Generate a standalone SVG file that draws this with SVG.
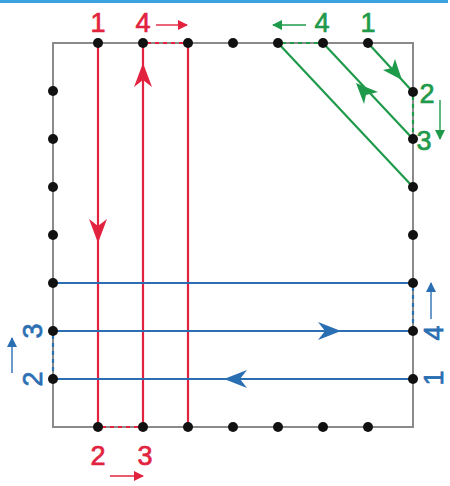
<svg xmlns="http://www.w3.org/2000/svg" width="450" height="486" viewBox="0 0 450 486">
<defs>
<style>
.lbl{font-family:"Liberation Sans",Arial,sans-serif;font-size:27px;text-anchor:middle;stroke-width:0.7}
.r{fill:#e2233f;stroke:#e2233f}.g{fill:#1f9a4b;stroke:#1f9a4b}.b{fill:#2b6fb3;stroke:#2b6fb3}
.ln{stroke-width:2.2;fill:none}
.rs{stroke:#e2233f}.gs{stroke:#1f9a4b}.bs{stroke:#2b6fb3}
.dash{stroke-width:2.2;stroke-dasharray:4 4;fill:none}
.thin{stroke-width:1.4;fill:none}
.dot{fill:#111}
</style>
<marker id="ar" viewBox="0 0 10 10" refX="9" refY="5" markerWidth="11" markerHeight="10" orient="auto" markerUnits="userSpaceOnUse"><path d="M0,0 L10,5 L0,10 z" fill="#e2233f"/></marker>
<marker id="ag" viewBox="0 0 10 10" refX="9" refY="5" markerWidth="11" markerHeight="10" orient="auto" markerUnits="userSpaceOnUse"><path d="M0,0 L10,5 L0,10 z" fill="#1f9a4b"/></marker>
<marker id="ab" viewBox="0 0 10 10" refX="9" refY="5" markerWidth="11" markerHeight="10" orient="auto" markerUnits="userSpaceOnUse"><path d="M0,0 L10,5 L0,10 z" fill="#2b6fb3"/></marker>
</defs>
<rect x="0" y="0" width="448" height="3" fill="#3aa3e0"/>
<rect id="frame" x="53" y="43" width="360" height="384" fill="none" stroke="#8a8a8a" stroke-width="2"/>
<g id="connectors">
<g id="red">
<line class="ln rs" x1="98" y1="43" x2="98" y2="427"/>
<line class="ln rs" x1="143" y1="43" x2="143" y2="427"/>
<line class="ln rs" x1="188" y1="43" x2="188" y2="427"/>
<path d="M89,219 L98,243 L107,219 L98,226 z" fill="#e2233f"/>
<path d="M134,87 L143,63 L152,87 L143,80 z" fill="#e2233f"/>
<line class="dash rs" x1="147" y1="43" x2="186" y2="43"/>
<line class="dash rs" x1="102" y1="427" x2="141" y2="427"/>
</g>
<g id="green">
<line class="ln gs" x1="368" y1="43" x2="413" y2="92"/>
<line class="ln gs" x1="323" y1="43" x2="413" y2="139"/>
<line class="ln gs" x1="278" y1="43" x2="413" y2="187"/>
<path d="M383,70 L402,80 L395,59 L392,68 z" fill="#1f9a4b"/>
<path d="M378,92 L356,83 L364,104 L366,95 z" fill="#1f9a4b"/>
<line class="dash gs" x1="282" y1="43" x2="320" y2="43"/>
<line class="dash gs" x1="413" y1="96" x2="413" y2="136"/>
</g>
<g id="blue">
<line class="ln bs" x1="53" y1="283" x2="413" y2="283"/>
<line class="ln bs" x1="53" y1="331" x2="413" y2="331"/>
<line class="ln bs" x1="53" y1="379" x2="413" y2="379"/>
<path d="M318,322 L341,331 L318,340 L325,331 z" fill="#2b6fb3"/>
<path d="M247,370 L224,379 L247,388 L240,379 z" fill="#2b6fb3"/>
<line class="dash bs" x1="53" y1="335" x2="53" y2="376"/>
<line class="dash bs" x1="413" y1="287" x2="413" y2="328"/>
</g>
<g id="label-arrows">
<line class="thin rs" x1="156" y1="25" x2="187" y2="25" marker-end="url(#ar)"/>
<line class="thin rs" x1="110" y1="476" x2="143" y2="476" marker-end="url(#ar)"/>
<line class="thin gs" x1="306" y1="25" x2="273" y2="25" marker-end="url(#ag)"/>
<line class="thin gs" x1="440" y1="100" x2="440" y2="139" marker-end="url(#ag)"/>
<line class="thin bs" x1="12" y1="373" x2="12" y2="338" marker-end="url(#ab)"/>
<line class="thin bs" x1="431" y1="319" x2="431" y2="283" marker-end="url(#ab)"/>
</g>
</g>
<g id="dots">
<circle class="dot" cx="98" cy="43" r="5"/><circle class="dot" cx="143" cy="43" r="5"/><circle class="dot" cx="188" cy="43" r="5"/><circle class="dot" cx="233" cy="43" r="5"/><circle class="dot" cx="278" cy="43" r="5"/><circle class="dot" cx="323" cy="43" r="5"/><circle class="dot" cx="368" cy="43" r="5"/>
<circle class="dot" cx="98" cy="427" r="5"/><circle class="dot" cx="143" cy="427" r="5"/><circle class="dot" cx="188" cy="427" r="5"/><circle class="dot" cx="233" cy="427" r="5"/><circle class="dot" cx="278" cy="427" r="5"/><circle class="dot" cx="323" cy="427" r="5"/><circle class="dot" cx="368" cy="427" r="5"/>
<circle class="dot" cx="53" cy="91" r="5"/><circle class="dot" cx="53" cy="139" r="5"/><circle class="dot" cx="53" cy="187" r="5"/><circle class="dot" cx="53" cy="235" r="5"/><circle class="dot" cx="53" cy="283" r="5"/><circle class="dot" cx="53" cy="331" r="5"/><circle class="dot" cx="53" cy="379" r="5"/>
<circle class="dot" cx="413" cy="92" r="5"/><circle class="dot" cx="413" cy="139" r="5"/><circle class="dot" cx="413" cy="187" r="5"/><circle class="dot" cx="413" cy="235" r="5"/><circle class="dot" cx="413" cy="283" r="5"/><circle class="dot" cx="413" cy="331" r="5"/><circle class="dot" cx="413" cy="379" r="5"/>
</g>
<g id="labels">
<text class="lbl r" x="98" y="32">1</text>
<text class="lbl r" x="143" y="32">4</text>
<text class="lbl r" x="98" y="465">2</text>
<text class="lbl r" x="145" y="465">3</text>
<text class="lbl g" x="322" y="32">4</text>
<text class="lbl g" x="368" y="32">1</text>
<text class="lbl g" x="427" y="103">2</text>
<text class="lbl g" x="424" y="150">3</text>
<text class="lbl b" transform="translate(42,331) rotate(-90)">3</text>
<text class="lbl b" transform="translate(42,379) rotate(-90)">2</text>
<text class="lbl b" transform="translate(443,333) rotate(-90)">4</text>
<text class="lbl b" transform="translate(443,378) rotate(-90)">1</text>
</g>
</svg>
